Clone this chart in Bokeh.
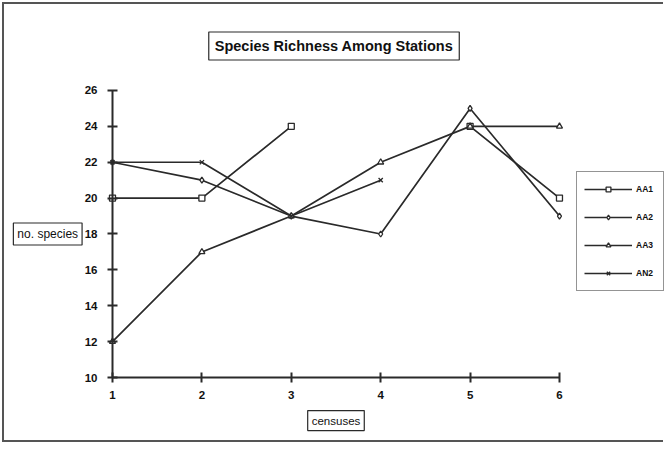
import numpy as np
from bokeh.plotting import figure
from bokeh.models import Label, Legend, LegendItem, Range1d, FixedTicker
from bokeh.embed import file_html
from bokeh.resources import INLINE

# ---- data ----
censuses = [1, 2, 3, 4, 5, 6]
aa1 = [20, 20, 24, np.nan, 24, 20]
aa2 = [22, 21, 19, 18, 25, 19]
aa3 = [12, 17, 19, 22, 24, 24]
an2 = [22, 22, 19, 21, np.nan, np.nan]
series_names = ["AA1", "AA2", "AA3", "AN2"]
series_values = [aa1, aa2, aa3, an2]
series_markers = ["square", "diamond", "triangle", "x"]
y_ticks = [10, 12, 14, 16, 18, 20, 22, 24, 26]
x_ticks = [1, 2, 3, 4, 5, 6]
title_text = "Species Richness Among Stations"
x_label = "censuses"
y_label = "no. species"

FONT = "Liberation Sans"
INK = "#2a2a2a"

# frame fills the whole canvas; axes are pinned at x=1 and y=10
p = figure(width=661, height=440, output_backend="svg", toolbar_location=None,
           title=None, x_range=Range1d(-0.208, 7.186),
           y_range=Range1d(6.265, 30.794),
           min_border_left=0, min_border_right=0, min_border_top=0,
           min_border_bottom=0)
p.styles = {"border": "2px solid #555", "border-right": "none",
            "margin-left": "2px", "margin-top": "2px",
            "padding-bottom": "7px", "background-color": "white"}
p.outline_line_color = None
p.xgrid.visible = False
p.ygrid.visible = False
p.background_fill_color = "white"
p.border_fill_color = "white"

p.xaxis[0].fixed_location = y_ticks[0]
p.xaxis[0].bounds = (x_ticks[0], x_ticks[-1])
p.yaxis[0].fixed_location = x_ticks[0]
p.yaxis[0].bounds = (y_ticks[0], y_ticks[-1])

for ax, ticks in ((p.xaxis[0], x_ticks), (p.yaxis[0], y_ticks)):
    ax.ticker = FixedTicker(ticks=ticks)
    ax.axis_line_width = 2
    ax.axis_line_color = INK
    ax.major_tick_line_width = 2
    ax.major_tick_line_color = INK
    ax.major_tick_in = 5
    ax.major_tick_out = 5
    ax.minor_tick_line_color = None
    ax.major_label_text_font = FONT
    ax.major_label_text_font_style = "bold"
    ax.major_label_text_font_size = "11.5px"
    ax.major_label_text_color = "#111"
p.xaxis[0].major_label_standoff = 8
p.yaxis[0].major_label_standoff = 10

items = []
for name, vals, mk in zip(series_names, series_values, series_markers):
    l = p.line(censuses, vals, line_color=INK, line_width=1.7)
    s = p.scatter(censuses, vals, marker=mk, size=6, line_color=INK,
                  fill_color="white", line_width=1.3)
    items.append(LegendItem(label=name, renderers=[l, s]))

legend = Legend(items=items, location=(572, 153), glyph_width=48,
                glyph_height=12, label_height=20, spacing=8, padding=7,
                label_standoff=4, margin=0,
                border_line_color=INK, border_line_width=1.5,
                label_text_font=FONT, label_text_font_style="bold",
                label_text_font_size="8.5px", label_text_color="#111",
                background_fill_alpha=1)
p.add_layout(legend, "center")

p.add_layout(Label(x=3.478, y=28.48, text=title_text, text_align="center",
                   text_baseline="middle", text_font=FONT,
                   text_font_style="bold", text_font_size="14.5px",
                   text_color="#111", border_line_color=INK,
                   border_line_width=1.2, background_fill_color="white",
                   padding=6))
p.add_layout(Label(x=0.2755, y=18.0, text=y_label, text_align="center",
                   text_baseline="middle", text_font=FONT,
                   text_font_size="12px", text_color="#111",
                   border_line_color=INK, border_line_width=1.2,
                   background_fill_color="white", padding=4))
p.add_layout(Label(x=3.5, y=7.6, text=x_label, text_align="center",
                   text_baseline="middle", text_font=FONT,
                   text_font_size="11.5px", text_color="#111",
                   border_line_color=INK, border_line_width=1.2,
                   background_fill_color="white", padding=4))

open("out.html", "w").write(file_html(p, INLINE))
